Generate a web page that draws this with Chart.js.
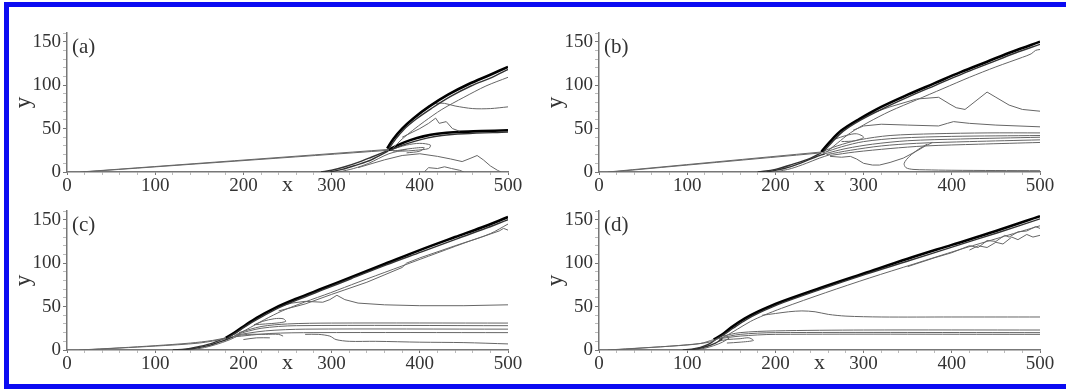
<!DOCTYPE html>
<html>
<head>
<meta charset="utf-8">
<script src="https://cdn.jsdelivr.net/npm/chart.js@4.4.1/dist/chart.umd.min.js"></script>
<style>
  html,body{margin:0;padding:0;background:#fff;overflow:hidden;}
  #wrap{position:relative;width:1066px;height:389px;overflow:hidden;background:#fff;}
  .bar{position:absolute;background:#0b0bf2;}
  canvas{position:absolute;}
  .lab{position:absolute;font-family:"Liberation Serif",serif;font-size:21px;line-height:24px;color:#333;}
</style>
</head>
<body>
<div id="wrap">
  <div class="bar" style="left:4px;top:2px;width:1062px;height:5px"></div>
  <div class="bar" style="left:4px;top:2px;width:5px;height:387px"></div>
  <div class="bar" style="left:4px;top:384px;width:1062px;height:5px"></div>
  <canvas id="ca" width="533" height="195" style="left:0px;top:0px"></canvas>
  <canvas id="cb" width="533" height="195" style="left:532px;top:0px"></canvas>
  <canvas id="cc" width="533" height="195" style="left:0px;top:178px"></canvas>
  <canvas id="cd" width="533" height="195" style="left:532px;top:178px"></canvas>
  <div class="lab" style="left:72px;top:34px">(a)</div>
  <div class="lab" style="left:604px;top:34px">(b)</div>
  <div class="lab" style="left:72px;top:212px">(c)</div>
  <div class="lab" style="left:604px;top:212px">(d)</div>
</div>
<script>
// ---- tick labels ----
const xTicks = [0, 100, 200, 300, 400, 500];
const yTicks = [0, 50, 100, 150];
const xMinor = [20, 40, 60, 80, 120, 140, 160, 180, 220, 240, 260, 280, 320, 340, 360, 380, 420, 440, 460, 480];
const yMinor = [10, 20, 30, 40, 60, 70, 80, 90, 110, 120, 130, 140, 160];

// ---- panel (a) contour lines [x, y] ----
const a_wedge1 = [[15,0],[365,26]];
const a_wedge2 = [[18,0],[365,25]];
const a_shockUp1 = [[363,27],[370,38],[380,50],[393,62],[410,75],[432,89],[455,101],[480,112],[500,121]];
const a_shockUp2 = [[365,27],[372,37],[382,49],[396,61],[413,73],[435,87],[458,99],[482,109],[500,118]];
const a_shockUp3 = [[370,28],[380,38],[392,48],[405,58],[425,72],[450,86],[475,99],[500,109]];
const a_c75 = [[410,76],[418,79],[428,79],[440,76],[460,73],[480,73],[500,75]];
const a_c55 = [[380,40],[390,45],[400,50],[410,56],[418,62],[422,56],[430,58],[437,50],[445,47]];
const a_shockLow1 = [[364,25],[375,31],[390,37],[404,41],[420,44],[442,46],[470,47],[500,48]];
const a_shockLow2 = [[366,25],[378,30],[393,35],[408,39],[425,42],[450,44],[500,46]];
const a_loop1 = [[365,25],[385,31],[400,33],[412,31],[410,27],[395,25],[380,24],[365,25]];
const a_loop2 = [[370,24],[390,27],[405,28],[400,24],[385,22]];
const a_low1 = [[288,0],[300,2],[315,6],[330,11],[345,17],[364,25]];
const a_low2 = [[298,0],[312,3],[328,8],[345,14],[364,24]];
const a_low3 = [[308,0],[325,4],[342,10],[365,21],[385,26]];
const a_c20 = [[330,5],[360,14],[380,19],[400,21],[420,18],[435,15],[448,12],[458,16],[465,19],[472,14],[480,7],[488,2],[492,0]];
const a_c5 = [[405,0],[410,5],[420,4],[428,6],[436,4],[445,2],[450,0]];

// ---- panel (b) ----
const b_wedge1 = [[10,0],[252,23]];
const b_wedge2 = [[14,0],[252,22]];
const b_shock1 = [[252,23],[262,35],[275,48],[295,61],[320,75],[350,89],[380,102],[410,115],[440,127],[470,139],[500,150]];
const b_shock2 = [[254,23],[264,34],[277,47],[297,60],[322,73],[352,87],[382,100],[412,113],[442,125],[472,137],[500,147]];
const b_shock3 = [[258,23],[270,33],[285,45],[305,57],[330,70],[360,83],[390,96],[420,109],[450,121],[480,132],[490,136],[495,140],[500,141]];
const b_c70 = [[296,60],[310,68],[330,75],[360,84],[385,86],[398,78],[405,74],[415,72],[440,92],[450,86],[465,77],[480,72],[500,70]];
const b_c52 = [[288,48],[300,53],[320,55],[350,54],[385,53],[395,56],[402,58],[420,56],[450,54],[500,52]];
const b_h1 = [[252,23],[270,30],[295,37],[330,42],[380,44],[440,45],[500,45]];
const b_h2 = [[254,22],[275,29],[300,35],[340,39],[400,41],[500,42]];
const b_h3 = [[256,21],[280,27],[310,32],[350,36],[410,38],[500,40]];
const b_h4 = [[258,20],[285,25],[320,30],[360,33],[420,35],[500,37]];
const b_h5 = [[262,19],[290,23],[330,27],[370,30],[430,32],[500,34]];
const b_low1 = [[180,0],[200,3],[220,9],[240,16],[252,22]];
const b_low2 = [[190,0],[210,4],[228,10],[245,17],[256,21]];
const b_low3 = [[200,0],[218,4],[235,10],[250,16],[262,20]];
const b_c30 = [[262,18],[275,17],[285,18],[292,15],[300,10],[310,8],[318,8],[330,11],[345,16],[360,24],[370,30],[378,34]];
const b_c3 = [[372,32],[362,26],[352,18],[346,10],[348,5],[356,3],[370,2.5],[400,2],[450,1.7],[500,1.5]];
const b_loop = [[268,38],[280,42],[292,44],[300,40],[290,36],[275,35]];

// ---- panel (c) ----
const c_wedge1 = [[14,0],[60,2.5],[100,5],[140,8],[165,11],[180,14]];
const c_wedge2 = [[18,0],[100,4.5],[150,8],[180,13]];
const c_low1 = [[120,0],[135,1],[150,4],[165,8],[180,14]];
const c_low2 = [[128,0],[145,2],[160,5],[175,10],[188,15]];
const c_low3 = [[135,0],[152,2],[168,6],[185,12],[195,17]];
const c_shock1 = [[180,14],[190,20],[200,27],[215,37],[235,48],[260,59],[290,71],[320,83],[360,99],[400,115],[440,130],[470,141],[500,153]];
const c_shock2 = [[182,14],[192,20],[202,27],[217,36],[237,47],[262,58],[292,70],[322,82],[362,98],[402,113],[442,128],[472,139],[500,150]];
const c_shock3 = [[186,14],[197,20],[208,26],[224,35],[244,45],[269,55],[299,66],[330,78],[370,93],[410,108],[450,123],[480,134],[500,145]];
const c_shock4 = [[240,45],[270,53],[300,64],[340,78],[380,95],[385,100],[400,106],[440,120],[470,130],[490,137],[495,140],[500,138]];
const c_c52 = [[240,50],[255,54],[270,56],[290,55],[298,58],[306,63],[315,58],[330,54],[360,52],[400,51],[450,51],[500,52]];
const c_h1 = [[195,20],[220,27],[250,30],[300,31],[500,31]];
const c_h2 = [[192,18],[220,25],[260,28],[500,28]];
const c_h3 = [[190,17],[225,22],[270,24],[500,24]];
const c_h4 = [[188,15],[230,19],[280,20],[500,20]];
const c_loop = [[212,29],[222,33],[235,36],[245,36],[248,33],[238,31],[225,30],[212,29]];
const c_c8 = [[270,18],[285,18],[298,16],[305,12],[320,10],[350,10],[400,9],[450,8.5],[500,7]];
const c_small1 = [[190,16],[205,18],[225,18],[240,18],[245,16]];
const c_small2 = [[200,12],[215,14],[230,14]];

// ---- panel (d) ----
const d_wedge1 = [[10,0],[50,2.5],[90,5],[115,7.5],[130,12]];
const d_wedge2 = [[14,0],[60,3],[100,6],[125,9],[135,13]];
const d_low1 = [[95,0],[105,1],[115,3],[125,7],[132,12]];
const d_low2 = [[102,0],[112,1.5],[122,4],[132,8],[140,13]];
const d_low3 = [[110,0],[120,2],[130,5],[140,9],[148,14]];
const d_shock1 = [[130,12],[140,18],[150,26],[165,36],[180,44],[200,53],[250,71],[300,88],[350,105],[400,121],[450,137],[500,154]];
const d_shock2 = [[132,12],[142,18],[152,25],[167,35],[182,43],[202,52],[252,70],[302,87],[352,103],[402,119],[452,135],[500,151]];
const d_shock3 = [[136,12],[147,18],[157,24],[172,33],[187,40],[207,48],[257,66],[307,83],[357,99],[407,115],[440,125],[460,131],[480,137],[500,143]];
const d_jag1 = [[350,96],[380,106],[400,112],[420,120],[430,118],[440,126],[450,125],[460,132],[465,130],[475,136],[485,137],[495,142],[500,140]];
const d_jag2 = [[420,115],[430,120],[440,118],[450,124],[458,122],[468,130],[475,127],[485,133],[492,130],[500,132]];
const d_c38 = [[185,40],[200,42],[215,44],[230,45],[245,44],[260,41],[280,39],[320,38],[400,38],[500,38]];
const d_h1 = [[140,16],[160,20],[200,22],[300,23],[500,23]];
const d_h2 = [[138,14],[160,18],[200,20],[500,20]];
const d_h3 = [[136,13],[160,16],[200,18],[500,18]];
const d_loop = [[135,10],[145,12],[160,13],[170,14],[175,11],[160,9],[145,8]];

// ---- styles ----
const STY = {
  k: {borderColor:'#000', borderWidth:2.6, tension:0.35},
  d: {borderColor:'#333', borderWidth:1.4, tension:0.35},
  g: {borderColor:'#666', borderWidth:1, tension:0.3},
  j: {borderColor:'#666', borderWidth:1, tension:0}
};

const panels = {
  ca: [[a_wedge1,'g'],[a_wedge2,'g'],[a_shockUp3,'g'],[a_shockUp2,'d'],[a_shockUp1,'k'],[a_c75,'g'],[a_c55,'j'],
       [a_shockLow2,'d'],[a_shockLow1,'k'],[a_loop1,'g'],[a_loop2,'g'],[a_low1,'d'],[a_low2,'d'],[a_low3,'g'],[a_c20,'j'],[a_c5,'j']],
  cb: [[b_wedge1,'g'],[b_wedge2,'g'],[b_shock3,'g'],[b_shock2,'d'],[b_shock1,'k'],[b_c70,'j'],[b_c52,'j'],
       [b_h1,'g'],[b_h2,'g'],[b_h3,'g'],[b_h4,'g'],[b_h5,'g'],[b_low1,'d'],[b_low2,'d'],[b_low3,'g'],[b_c30,'j'],[b_c3,'g'],[b_loop,'g']],
  cc: [[c_wedge1,'g'],[c_wedge2,'g'],[c_low1,'d'],[c_low2,'d'],[c_low3,'g'],[c_shock4,'j'],[c_shock3,'g'],[c_shock2,'d'],[c_shock1,'k'],
       [c_c52,'j'],[c_h1,'g'],[c_h2,'g'],[c_h3,'g'],[c_h4,'g'],[c_loop,'g'],[c_c8,'g'],[c_small1,'g'],[c_small2,'g']],
  cd: [[d_wedge1,'g'],[d_wedge2,'g'],[d_low1,'d'],[d_low2,'d'],[d_low3,'g'],[d_jag2,'j'],[d_jag1,'j'],[d_shock3,'g'],[d_shock2,'d'],[d_shock1,'k'],
       [d_c38,'g'],[d_h1,'g'],[d_h2,'g'],[d_h3,'g'],[d_loop,'g']]
};

const serif = '"Liberation Serif", "Times New Roman", serif';
const isMajor = (arr, v) => arr.indexOf(v) >= 0;

function makeChart(id, lines){
  const datasets = lines.map(([pts, s]) => Object.assign({
    data: pts.map(p => ({x:p[0], y:p[1]})),
    showLine: true, pointRadius: 0, fill: false
  }, STY[s]));
  new Chart(document.getElementById(id), {
    type: 'scatter',
    data: {datasets},
    options: {
      responsive: false, animation: false,
      layout: {padding: {left: 0, right: 25, top: 33, bottom: 0}},
      plugins: {legend: {display: false}, tooltip: {enabled: false}},
      scales: {
        x: {
          type: 'linear', min: 0, max: 500,
          afterBuildTicks: s => { s.ticks = xTicks.concat(xMinor).sort((a,b)=>a-b).map(v => ({value: v})); },
          afterFit: s => { s.height = 23; },
          grid: {display: true, drawOnChartArea: false, drawTicks: true, tickLength: 3,
                 color: c => (c.tick && isMajor(xTicks, c.tick.value)) ? '#777' : '#bbb'},
          border: {color: '#777', width: 1.5},
          ticks: {font: {family: serif, size: 19}, color: '#333', padding: 0, maxRotation: 0, autoSkip: false,
                  callback: v => isMajor(xTicks, v) ? String(v) : ''},
          title: {display: true, text: 'x', font: {family: serif, size: 22, lineHeight: 0.9}, color: '#333', padding: 0}
        },
        y: {
          type: 'linear', min: 0, max: 160,
          afterBuildTicks: s => { s.ticks = yTicks.concat(yMinor).sort((a,b)=>a-b).map(v => ({value: v})); },
          afterFit: s => { s.width = 67; },
          grid: {display: true, drawOnChartArea: false, drawTicks: true, tickLength: 4,
                 color: c => (c.tick && isMajor(yTicks, c.tick.value)) ? '#777' : '#bbb'},
          border: {color: '#777', width: 1.5},
          ticks: {font: {family: serif, size: 19}, color: '#333', padding: 2, autoSkip: false,
                  callback: v => isMajor(yTicks, v) ? String(v) : ''},
          title: {display: true, text: 'y', font: {family: serif, size: 23, lineHeight: 1}, color: '#333', padding: {top: 12, bottom: 0}}
        }
      }
    }
  });
}
Object.keys(panels).forEach(id => makeChart(id, panels[id]));
</script>
</body>
</html>
